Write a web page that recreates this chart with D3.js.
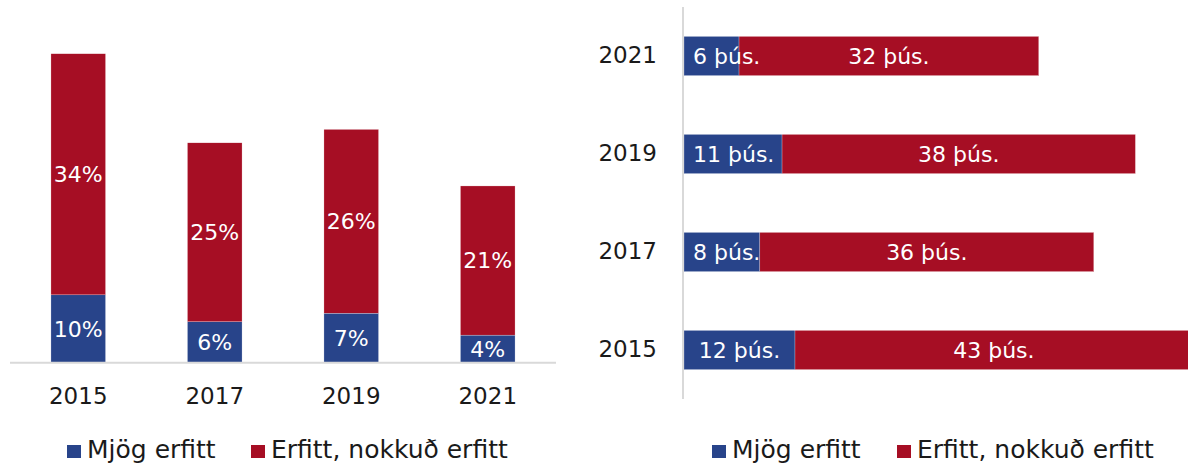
<!DOCTYPE html>
<html>
<head>
  <meta charset="utf-8">
  <script src="https://cdn.jsdelivr.net/npm/d3@7"></script>
  <style>
    body { margin: 0; background: #fff; }
    svg text { font-family: "DejaVu Sans", sans-serif; }
  </style>
</head>
<body>
<div id="chart"></div>
<script>
// values
var years = ["2015", "2017", "2019", "2021"];
var seriesNames = ["Mjög erfitt", "Erfitt, nokkuð erfitt"];
// left panel: share (%)
var pctVeryHard = [9.6, 5.8, 7.0, 3.9];
var pctHard = [34.1, 25.3, 26.0, 21.1];
// right panel: thousands
var thsVeryHard = [12.0, 8.2, 10.6, 5.95];
var thsHard = [43.0, 36.1, 38.2, 32.4];

var colors = ["#28448a", "#a60e24"];
var W = 1188, H = 465;

var svg = d3.select("#chart").append("svg")
    .attr("width", W).attr("height", H);

function rows(a, b) {
  return years.map(function(y, i) { return {year: y, s0: a[i], s1: b[i]}; });
}
var stack = d3.stack().keys(["s0", "s1"]);

// LEFT: vertical stacked columns
var leftData = stack(rows(pctVeryHard, pctHard));
var x = d3.scaleBand().domain(years).range([10, 556]).paddingInner(0.6).paddingOuter(0.3);
var y = d3.scaleLinear().domain([0, 50]).range([362.7, 9.2]);

var left = svg.append("g");
leftData.forEach(function(layer, k) {
  left.selectAll(null).data(layer).enter().append("rect")
      .attr("x", function(d) { return x(d.data.year); })
      .attr("width", x.bandwidth())
      .attr("y", function(d) { return y(d[1]); })
      .attr("height", function(d) { return y(d[0]) - y(d[1]); })
      .attr("fill", colors[k])
      .attr("stroke", "#fff").attr("stroke-width", 0.4).attr("stroke-opacity", 0.6);
  left.selectAll(null).data(layer).enter().append("text")
      .attr("x", function(d) { return x(d.data.year) + x.bandwidth() / 2; })
      .attr("y", function(d) { return (y(d[0]) + y(d[1])) / 2; })
      .attr("dy", "0.36em")
      .attr("text-anchor", "middle")
      .attr("fill", "#fff").attr("font-size", 22)
      .text(function(d) { return Math.round(d[1] - d[0]) + "%"; });
});

var xAxis = left.append("g").attr("transform", "translate(0," + y(0) + ")")
    .call(d3.axisBottom(x).tickSize(0).tickPadding(25));
xAxis.select(".domain").attr("stroke", "#d9d9d9").attr("stroke-width", 2)
    .attr("d", "M10,0H556");
xAxis.selectAll("text").attr("font-size", 23).attr("fill", "#1a1a1a")
    .style("font-family", "'DejaVu Sans', sans-serif");

// RIGHT: horizontal stacked bars
var rightData = stack(rows(thsVeryHard, thsHard));
var yr = d3.scaleBand().domain(years.slice().reverse()).range([7, 399]).paddingInner(0.6).paddingOuter(0.3);
var xr = d3.scaleLinear().domain([0, 60]).range([684, 1239]);

var right = svg.append("g");
rightData.forEach(function(layer, k) {
  right.selectAll(null).data(layer).enter().append("rect")
      .attr("y", function(d) { return yr(d.data.year); })
      .attr("height", yr.bandwidth())
      .attr("x", function(d) { return xr(d[0]); })
      .attr("width", function(d) { return xr(d[1]) - xr(d[0]); })
      .attr("fill", colors[k])
      .attr("stroke", "#fff").attr("stroke-width", 0.4).attr("stroke-opacity", 0.6);
});
rightData.forEach(function(layer, k) {
  right.selectAll(null).data(layer).enter().append("text")
      .attr("x", function(d) { return (xr(d[0]) + xr(d[1])) / 2; })
      .attr("y", function(d) { return yr(d.data.year) + yr.bandwidth() / 2; })
      .attr("dy", "0.36em")
      .attr("text-anchor", "middle")
      .attr("fill", "#fff").attr("font-size", 22)
      .text(function(d) { return Math.round(d[1] - d[0]) + " þús."; })
      .each(function() {
        // keep labels inside the plot area, like the original does
        var t = d3.select(this), w = this.getComputedTextLength();
        var cx = +t.attr("x");
        if (cx - w / 2 < 693) t.attr("x", 693 + w / 2);
      });
});

var yAxis = right.append("g").attr("transform", "translate(683,0)")
    .call(d3.axisLeft(yr).tickSize(0).tickPadding(26));
yAxis.select(".domain").attr("stroke", "#d9d9d9").attr("stroke-width", 2)
    .attr("d", "M0,7V399");
yAxis.selectAll("text").attr("font-size", 23).attr("fill", "#1a1a1a")
    .style("font-family", "'DejaVu Sans', sans-serif");

// legends
function legend(xs) {
  var g = svg.append("g");
  seriesNames.forEach(function(name, i) {
    g.append("rect").attr("x", xs[i]).attr("y", 445)
        .attr("width", 14).attr("height", 13).attr("fill", colors[i]);
    g.append("text").attr("x", xs[i] + 20).attr("y", 458)
        .attr("font-size", 25).attr("fill", "#1a1a1a")
        .text(name);
  });
}
legend([67, 251]);
legend([712, 897]);
</script>
</body>
</html>
